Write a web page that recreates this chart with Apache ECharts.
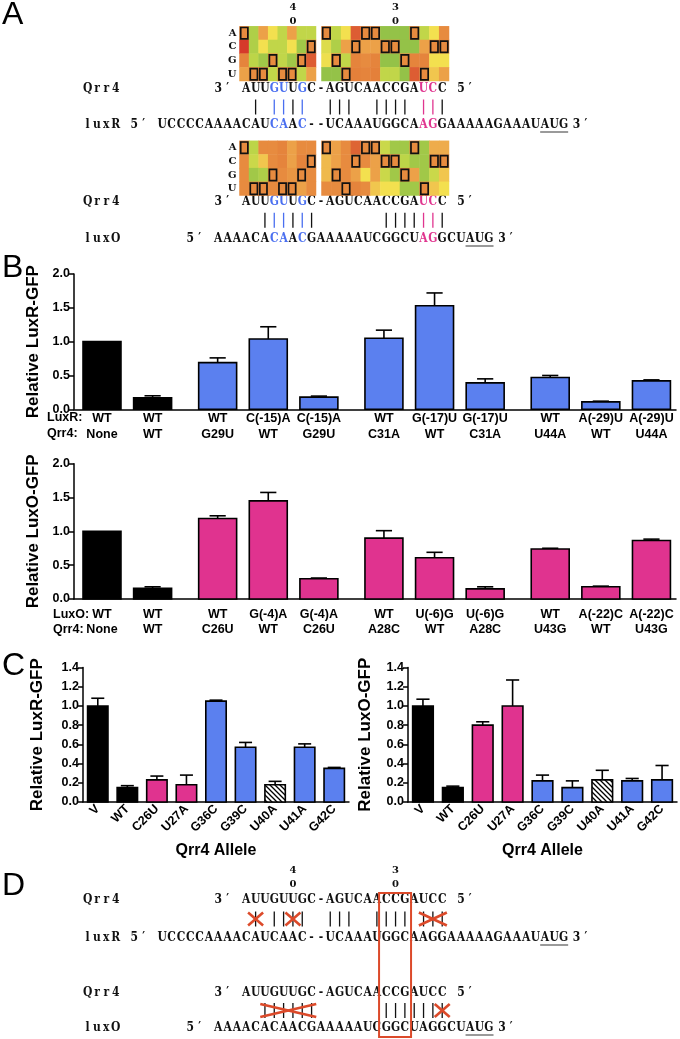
<!DOCTYPE html>
<html><head><meta charset="utf-8">
<script src="https://cdn.jsdelivr.net/npm/echarts/dist/echarts.min.js"></script>
<style>html,body{margin:0;padding:0;background:#fff}#c{width:680px;height:1039px}</style>
</head><body><div id="c"></div>
<script>
// ---------------- DATA ----------------
const qrr4Seq = 'AUUGUUGC-AGUCAACCGAUCC';
const luxRSeq = 'UCCCCAAAACAUCAAC--UCAAAUGGCAAGGAAAAAGAAAUAUG';
const luxOSeq = 'AAAACACAACGAAAAAUCGGCUAGGCUAUG';
const luxROffset = 9;   // Qrr4 index 0 sits over luxR index 9
const luxOOffset = 3;   // Qrr4 index 0 sits over luxO index 3
const bluePos = [3, 4, 6];
const pinkPos = [19, 20];
const luxRPairs = [1, 3, 4, 5, 6, 9, 10, 11, 14, 15, 16, 17, 19, 20, 21];
const luxOPairs = [2, 3, 4, 5, 6, 7, 15, 16, 17, 18, 19, 20, 21];
const dLuxRCross = [[1, 1], [5, 5], [19, 21]];
const dLuxOCross = [[2, 7], [21, 21]];
const boxMarks = [{pos: 5, text: '40'}, {pos: 16, text: '30'}];
const dBoxRange = [15, 17];

const heatRows = ['A', 'C', 'G', 'U'];
const heatLuxRLeft = [
  [0.25, 0.85, 0.35, 0.6, 0.78, 0.35, 0.78, 0.78],
  [0.0, 0.85, 0.6, 0.78, 0.78, 0.6, 0.9, 0.25],
  [0.22, 0.8, 0.9, 0.25, 0.78, 0.9, 0.25, 0.1],
  [0.35, 0.25, 0.25, 0.78, 0.25, 0.25, 0.78, 0.35]];
const heatLuxRRight = [
  [0.25, 0.78, 0.6, 0.1, 0.25, 0.25, 0.95, 0.95, 0.95, 0.25, 0.78, 0.6, 0.25],
  [0.68, 0.85, 0.35, 0.25, 0.35, 0.35, 0.25, 0.25, 0.95, 0.95, 0.35, 0.25, 0.25],
  [0.62, 0.25, 0.78, 0.22, 0.25, 0.22, 0.95, 0.95, 0.25, 0.22, 0.22, 0.6, 0.6],
  [0.95, 0.95, 0.25, 0.2, 0.22, 0.2, 0.78, 0.78, 0.95, 0.1, 0.25, 0.5, 0.35]];
const heatLuxOLeft = [
  [0.25, 0.8, 0.25, 0.25, 0.22, 0.35, 0.25, 0.25],
  [0.25, 0.75, 0.5, 0.25, 0.22, 0.35, 0.22, 0.25],
  [0.25, 0.9, 0.85, 0.25, 0.25, 0.3, 0.25, 0.25],
  [0.25, 0.25, 0.25, 0.25, 0.25, 0.25, 0.35, 0.25]];
const heatLuxORight = [
  [0.25, 0.35, 0.25, 0.12, 0.25, 0.25, 0.75, 0.9, 0.9, 0.25, 0.9, 0.4, 0.4],
  [0.45, 0.35, 0.25, 0.25, 0.25, 0.35, 0.25, 0.25, 0.8, 0.9, 0.9, 0.25, 0.25],
  [0.45, 0.25, 0.25, 0.35, 0.6, 0.35, 0.75, 0.9, 0.25, 0.35, 0.9, 0.75, 0.5],
  [0.25, 0.25, 0.25, 0.22, 0.25, 0.5, 0.6, 0.6, 0.9, 0.9, 0.25, 0.5, 0.6]];

const bGroup = [0, 0, 1, 1, 1, 2, 2, 2, 3, 3, 3];
const bKind = [0, 0, 1, 1, 1, 1, 1, 1, 1, 1, 1];
const bLuxR = ['WT', 'WT', 'WT', 'C(-15)A', 'C(-15)A', 'WT', 'G(-17)U', 'G(-17)U', 'WT', 'A(-29)U', 'A(-29)U'];
const bQrr4R = ['None', 'WT', 'G29U', 'WT', 'G29U', 'C31A', 'WT', 'C31A', 'U44A', 'WT', 'U44A'];
const bValR = [1.0, 0.17, 0.69, 1.04, 0.18, 1.05, 1.53, 0.39, 0.47, 0.11, 0.42];
const bErrR = [0, 0.03, 0.07, 0.18, 0.015, 0.12, 0.19, 0.06, 0.03, 0.01, 0.015];
const bLuxO = ['WT', 'WT', 'WT', 'G(-4)A', 'G(-4)A', 'WT', 'U(-6)G', 'U(-6)G', 'WT', 'A(-22)C', 'A(-22)C'];
const bQrr4O = ['None', 'WT', 'C26U', 'WT', 'C26U', 'A28C', 'WT', 'A28C', 'U43G', 'WT', 'U43G'];
const bValO = [1.0, 0.16, 1.19, 1.45, 0.30, 0.90, 0.61, 0.15, 0.74, 0.18, 0.865];
const bErrO = [0, 0.02, 0.04, 0.125, 0.01, 0.11, 0.08, 0.03, 0.01, 0.01, 0.02];

const cAlleles = ['V', 'WT', 'C26U', 'U27A', 'G36C', 'G39C', 'U40A', 'U41A', 'G42C'];
const cKind = [0, 0, 2, 2, 1, 1, 3, 1, 1];
const cLuxRVal = [1.0, 0.15, 0.23, 0.18, 1.05, 0.57, 0.18, 0.57, 0.35];
const cLuxRErr = [0.08, 0.02, 0.04, 0.1, 0.01, 0.05, 0.035, 0.035, 0.01];
const cLuxOVal = [1.0, 0.15, 0.8, 1.0, 0.22, 0.15, 0.23, 0.22, 0.23];
const cLuxOErr = [0.07, 0.015, 0.035, 0.27, 0.06, 0.07, 0.1, 0.025, 0.15];

// ---------------- STYLE ----------------
const BLUE = '#5b80ef', PINK = '#e0338f', TBLUE = '#4a6ff0', TPINK = '#e0358f', RED = '#dc4a2a';
const heatColors = ['#d63a2b', '#e4803a', '#eeac4c', '#f3e04f', '#bcd548', '#86bb48'];
const SERIF = 'DejaVu Serif';
const SANS = 'Liberation Sans';

const hatch = document.createElement('canvas');
hatch.width = 5; hatch.height = 5;
(function () {
  const g = hatch.getContext('2d');
  g.fillStyle = '#fff'; g.fillRect(0, 0, 5, 5);
  g.strokeStyle = '#000'; g.lineWidth = 1.3;
  g.beginPath();
  g.moveTo(-1, -1); g.lineTo(6, 6);
  g.moveTo(-1, 4); g.lineTo(1, 6);
  g.moveTo(4, -1); g.lineTo(6, 1);
  g.stroke();
})();
const hatchFill = {image: hatch, repeat: 'repeat'};

// ---------------- TEXT LAYOUT (panels A, D) ----------------
const CW = 9.33, X0 = 83, QCOL = 17;
const colX = c => X0 + c * CW;
const graphics = [];

function txt(text, x, y, size, family, weight, fill, align, sx) {
  graphics.push({type: 'text', silent: true, x, y, scaleX: sx || 1,
    style: {text, x: 0, y: 0, fontSize: size, fontFamily: family, fontWeight: weight, fill: fill || '#111',
      align: align || 'center', verticalAlign: 'middle'}});
}
function drawChars(str, col, y, colorFn) {
  for (let k = 0; k < str.length; k++) {
    if (str[k] === ' ') continue;
    txt(str[k], colX(col + k) + CW / 2, y, 12.5, SERIF, 'bold', colorFn ? colorFn(k) : '#111', 'center', 0.86);
  }
}
function line(x1, y1, x2, y2, color, w) {
  graphics.push({type: 'line', silent: true, shape: {x1, y1, x2, y2}, style: {stroke: color, lineWidth: w}});
}
const qColor = k => bluePos.includes(k) ? TBLUE : (pinkPos.includes(k) ? TPINK : '#111');

function drawDuplex(name, seq, offset, qY, tY, pairs, colored, crosses) {
  const tCol = QCOL - offset;
  drawChars('Qrr4', 0, qY);
  drawChars('3′', QCOL - 3, qY);
  drawChars(qrr4Seq, QCOL, qY, colored ? qColor : null);
  drawChars('5′', QCOL + qrr4Seq.length + 1, qY);
  drawChars(name, 0, tY);
  drawChars('5′', tCol - 3, tY);
  drawChars(seq, tCol, tY, colored ? (k => qColor(k - offset)) : null);
  drawChars('3′', tCol + seq.length + 0.4, tY);
  const a = seq.lastIndexOf('AUG');
  line(colX(tCol + a), tY + 7, colX(tCol + a + 3), tY + 7, '#9a9a9a', 2);
  const mid = (qY + tY) / 2;
  pairs.forEach(i => {
    const x = colX(QCOL + i) + CW / 2;
    line(x, mid - 7.5, x, mid + 7.5, colored ? qColor(i) : '#111', 1.3);
  });
  (crosses || []).forEach(([f, t]) => {
    let x1 = colX(QCOL + f), x2 = colX(QCOL + t + 1);
    if (x2 - x1 < 15) { const c = (x1 + x2) / 2; x1 = c - 7.5; x2 = c + 7.5; }
    line(x1, mid - 6.5, x2, mid + 6.5, RED, 2.6);
    line(x1, mid + 6.5, x2, mid - 6.5, RED, 2.6);
  });
}
function drawMarks(y) {
  boxMarks.forEach(m => {
    const x = colX(QCOL + m.pos) + CW / 2;
    txt(m.text[0], x, y, 10, SERIF, 'bold');
    txt(m.text[1], x, y + 14.5, 10, SERIF, 'bold');
  });
}

// Panel A
drawMarks(7);
drawDuplex('luxR', luxRSeq, luxROffset, 89, 125, luxRPairs, true);
drawDuplex('luxO', luxOSeq, luxOOffset, 201.5, 239, luxOPairs, true);
// Panel D
drawMarks(870);
drawDuplex('luxR', luxRSeq, luxROffset, 900, 938, luxRPairs, false, dLuxRCross);
drawDuplex('luxO', luxOSeq, luxOOffset, 993, 1028, luxOPairs, false, dLuxOCross);
graphics.push({type: 'rect', silent: true, shape: {x: colX(QCOL + dBoxRange[0]) - 2.5, y: 893, width: (dBoxRange[1] - dBoxRange[0] + 1) * CW + 4, height: 144}, style: {fill: 'none', stroke: RED, lineWidth: 2}});

// panel letters
[['A', 15], ['B', 268.5], ['C', 666.5], ['D', 886]].forEach(([t, y]) => txt(t, 2, y, 32, SANS, 'normal', '#000', 'left'));
// B row labels
txt('LuxR:', 47, 418, 12.5, SANS, 'bold', '#000', 'left');
txt('Qrr4:', 47, 434, 12.5, SANS, 'bold', '#000', 'left');
txt('LuxO:', 53, 615, 12.5, SANS, 'bold', '#000', 'left');
txt('Qrr4:', 53, 630, 12.5, SANS, 'bold', '#000', 'left');

// ---------------- CHART ----------------
const grids = [
  {left: 239.5, top: 26.3, width: 76.5, height: 54.7},
  {left: 321.5, top: 26.3, width: 127.5, height: 54.7},
  {left: 239.5, top: 140.8, width: 76.5, height: 54.7},
  {left: 321.5, top: 140.8, width: 127.5, height: 54.7},
  {left: 74, top: 274, width: 602, height: 135.3},
  {left: 74, top: 463.7, width: 602, height: 135.3},
  {left: 83, top: 667.5, width: 266, height: 134.5},
  {left: 408, top: 667.5, width: 269, height: 134.5}
];
const xAxes = [], yAxes = [], series = [];
const heatBlocks = [
  [heatLuxRLeft, qrr4Seq.slice(0, 8)], [heatLuxRRight, qrr4Seq.slice(9)],
  [heatLuxOLeft, qrr4Seq.slice(0, 8)], [heatLuxORight, qrr4Seq.slice(9)]];
heatBlocks.forEach(([mat, letters], gi) => {
  xAxes.push({type: 'category', gridIndex: gi, data: letters.split('').map((c, i) => String(i)), show: false});
  yAxes.push({type: 'category', gridIndex: gi, data: heatRows, inverse: true,
    axisLine: {show: false}, axisTick: {show: false}, splitLine: {show: false},
    axisLabel: {show: gi % 2 === 0, fontFamily: SERIF, fontWeight: 'bold', fontSize: 10, color: '#111', margin: 3}});
});
heatBlocks.forEach(([mat], gi) => {
  const data = [];
  mat.forEach((row, r) => row.forEach((v, c) => data.push([c, r, v])));
  series.push({type: 'heatmap', xAxisIndex: gi, yAxisIndex: gi, data, silent: true, progressive: 0, itemStyle: {borderWidth: 0}});
});
heatBlocks.forEach(([mat, letters], gi) => {
  const data = letters.split('').map((ch, c) => [c, heatRows.indexOf(ch)]);
  series.push({type: 'custom', xAxisIndex: gi, yAxisIndex: gi, data, silent: true,
    renderItem: (p, api) => {
      const c = api.coord([api.value(0), api.value(1)]);
      const s = api.size([1, 1]);
      return {type: 'rect', shape: {x: c[0] - s[0] / 2 + 1.2, y: c[1] - s[1] / 2 + 1.2, width: s[0] - 2.4, height: s[1] - 2.4},
        style: {fill: 'none', stroke: '#111', lineWidth: 1.7}};
    }});
});

const axisBlack = {show: true, onZero: false, lineStyle: {color: '#000', width: 1.5}};
function yAxisOf(gi, max, interval, name, gap) {
  return {type: 'value', gridIndex: gi, min: 0, max, interval, name, nameLocation: 'middle', nameGap: gap,
    nameTextStyle: {fontSize: 17, fontWeight: 'bold', color: '#000', fontFamily: SANS},
    axisLine: axisBlack, axisTick: {show: true, length: 5, lineStyle: {color: '#000', width: 1.5}},
    axisLabel: {color: '#000', fontWeight: 'bold', fontSize: 12.5, fontFamily: SANS, margin: 4, formatter: v => v.toFixed(1)},
    splitLine: {show: false}};
}
// Panel B
[4, 5].forEach(gi => {
  xAxes.push({type: 'value', gridIndex: gi, min: -0.553, max: 11.34, axisLine: axisBlack,
    axisTick: {show: false}, axisLabel: {show: false}, splitLine: {show: false}});
});
yAxes.push(yAxisOf(4, 2, 0.5, 'Relative LuxR-GFP', 27.5));
yAxes.push(yAxisOf(5, 2, 0.5, 'Relative LuxO-GFP', 27.5));
// Panel C
[6, 7].forEach(gi => {
  xAxes.push({type: 'category', gridIndex: gi, data: cAlleles, axisLine: axisBlack, axisTick: {show: false},
    axisLabel: {rotate: 45, interval: 0, color: '#000', fontWeight: 'bold', fontSize: 12.5, fontFamily: SANS, margin: 5},
    name: 'Qrr4 Allele', nameLocation: 'middle', nameGap: 41,
    nameTextStyle: {fontSize: 16, fontWeight: 'bold', color: '#000', fontFamily: SANS}});
});
yAxes.push(yAxisOf(6, 1.4, 0.2, 'Relative LuxR-GFP', 37.5));
yAxes.push(yAxisOf(7, 1.4, 0.2, 'Relative LuxO-GFP', 34.5));

function barRenderer(vals, errs, kinds, barW, capW, fills, labelRows) {
  return function (params, api) {
    const i = params.dataIndex;
    const x = api.value(0), v = vals[i], e = errs[i], k = kinds[i];
    const base = api.coord([x, 0]), top = api.coord([x, v]);
    const unit = api.size([1, 0])[0];
    const w = unit * barW, cw = unit * capW;
    const ch = [];
    if (e > 0) {
      const et = api.coord([x, v + e]);
      ch.push({type: 'line', shape: {x1: base[0], y1: top[1], x2: base[0], y2: et[1]}, style: {stroke: '#000', lineWidth: 1.6}});
      ch.push({type: 'line', shape: {x1: base[0] - cw / 2, y1: et[1], x2: base[0] + cw / 2, y2: et[1]}, style: {stroke: '#000', lineWidth: 1.6}});
    }
    ch.push({type: 'rect', shape: {x: base[0] - w / 2, y: top[1], width: w, height: base[1] - top[1]},
      style: {fill: fills[k], stroke: '#000', lineWidth: 1.6}});
    (labelRows || []).forEach(r => ch.push({type: 'text', style: {text: r.texts[i], x: base[0], y: base[1] + r.dy,
      align: 'center', verticalAlign: 'middle', fontSize: 12.5, fontWeight: 'bold', fontFamily: SANS, fill: '#000'}}));
    return {type: 'group', children: ch};
  };
}
const groupGap = 0.285;
const bPos = bGroup.map((g, i) => i + g * groupGap);
series.push({type: 'custom', xAxisIndex: 4, yAxisIndex: 4, clip: false, silent: true,
  data: bPos.map((p, i) => [p, bValR[i]]),
  renderItem: barRenderer(bValR, bErrR, bKind, 0.75, 0.32, ['#000', BLUE], [{texts: bLuxR, dy: 9.5}, {texts: bQrr4R, dy: 25.5}])});
series.push({type: 'custom', xAxisIndex: 5, yAxisIndex: 5, clip: false, silent: true,
  data: bPos.map((p, i) => [p, bValO[i]]),
  renderItem: barRenderer(bValO, bErrO, bKind, 0.75, 0.32, ['#000', PINK], [{texts: bLuxO, dy: 16}, {texts: bQrr4O, dy: 31}])});
const cFills = ['#000', BLUE, PINK, hatchFill];
series.push({type: 'custom', xAxisIndex: 6, yAxisIndex: 6, clip: false, silent: true,
  data: cAlleles.map((a, i) => [i, cLuxRVal[i]]),
  renderItem: barRenderer(cLuxRVal, cLuxRErr, cKind, 0.69, 0.44, cFills)});
series.push({type: 'custom', xAxisIndex: 7, yAxisIndex: 7, clip: false, silent: true,
  data: cAlleles.map((a, i) => [i, cLuxOVal[i]]),
  renderItem: barRenderer(cLuxOVal, cLuxOErr, cKind, 0.69, 0.44, cFills)});

const chart = echarts.init(document.getElementById('c'), null, {renderer: 'canvas', width: 680, height: 1039});
chart.setOption({
  animation: false,
  backgroundColor: '#fff',
  grid: grids,
  xAxis: xAxes,
  yAxis: yAxes,
  visualMap: {show: false, type: 'continuous', min: 0, max: 1, dimension: 2, seriesIndex: [0, 1, 2, 3], inRange: {color: heatColors}},
  series,
  graphic: {elements: graphics}
});
</script></body></html>
